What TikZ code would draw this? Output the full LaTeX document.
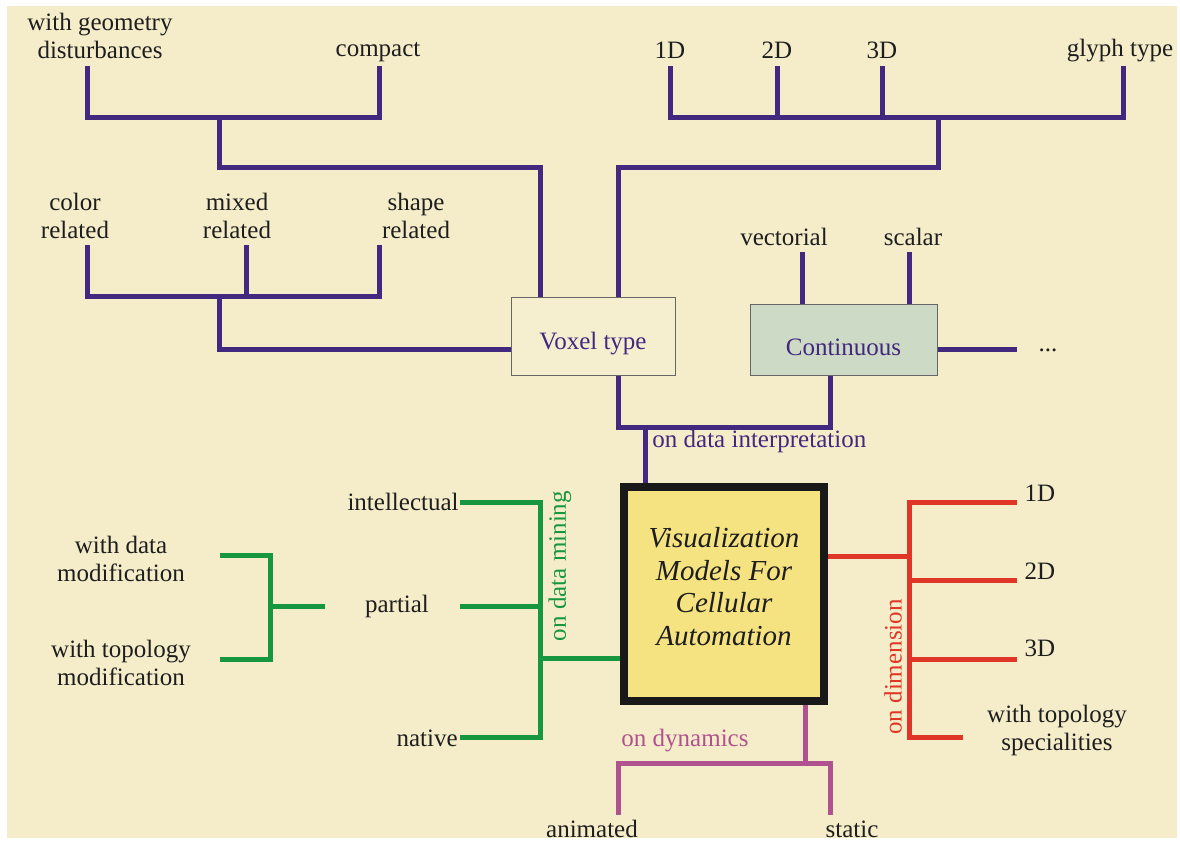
\documentclass[tikz,border=0pt]{standalone}
\usepackage{fontspec}
\setmainfont{LiberationSerif}[Extension=.ttf, UprightFont=*-Regular, ItalicFont=*-Italic, BoldFont=*-Bold, BoldItalicFont=*-BoldItalic]
\definecolor{bgc}{RGB}{245,237,202}
\definecolor{pur}{RGB}{66,40,126}
\definecolor{grn}{RGB}{22,150,62}
\definecolor{rdc}{RGB}{224,54,40}
\definecolor{mag}{RGB}{176,82,143}
\definecolor{ybox}{RGB}{245,226,128}
\definecolor{gbox}{RGB}{205,218,197}
\definecolor{txt}{RGB}{30,30,30}
\begin{document}
\begin{tikzpicture}[x=0.5pt,y=-0.5pt,
  lbl/.style={font=\fontsize{12.5}{14}\selectfont, text=txt, inner sep=0pt, align=center},
  pl/.style={draw=pur, line width=2.5pt},
  gl/.style={draw=grn, line width=2.5pt},
  rl/.style={draw=rdc, line width=2.5pt},
  ml/.style={draw=mag, line width=2.5pt},
  catbox/.style={draw=black!60, line width=0.5pt, font=\fontsize{12.5}{14}\selectfont, text=pur, inner sep=0pt}]
\useasboundingbox (0,0) rectangle (1180,843);
\fill[white] (0,0) rectangle (1180,843);
\fill[bgc] (7,6) rectangle (1177,838);

% boxes
\node[catbox, fill=bgc!90!white, minimum width=82pt, minimum height=39pt, text height=15pt, text depth=2pt] (voxel) at (593,336) {Voxel type};
\node[catbox, fill=gbox, minimum width=93.5pt, minimum height=35.5pt, text height=16pt, text depth=0pt] (cont) at (843.5,339.5) {Continuous};
\node[draw=black!90, line width=4pt, fill=ybox, minimum width=100pt, minimum height=107pt, inner sep=0pt,
  font=\fontsize{14.5}{16.2}\selectfont\itshape, text=txt] (main) at (724,594)
  {\begin{tabular}{@{}c@{}}Visualization\\Models For\\Cellular\\Automation\\[4pt]\end{tabular}};

% top-left labels
\node[lbl] (wgd) at (100,36) {with geometry\\disturbances};
\node[lbl] (compact) at (378,52) {compact};
\node[lbl] (color) at (75,216) {color\\related};
\node[lbl] (mixed) at (237,216) {mixed\\related};
\node[lbl] (shape) at (416,216) {shape\\related};
% top-right labels
\node[lbl] (t1) at (670,50) {1D};
\node[lbl] (t2) at (777,50) {2D};
\node[lbl] (t3) at (882,50) {3D};
\node[lbl] (glyph) at (1120,51) {glyph type};
\node[lbl] (vect) at (784,237) {vectorial};
\node[lbl] (scal) at (913,237) {scalar};
\node[lbl] (dots) at (1048,350) {...};

% coordinates top-left
\coordinate (a1) at (87,66);
\coordinate (a2) at (379,66);
\coordinate (j1) at (219,117);
\coordinate (j2) at (540,167);
\draw[pl] (a1) -- (a1|-j1) -- (a2|-j1) -- (a2);
\draw[pl] (j1) -- (j1|-j2) -- (j2) -- (voxel.north -| j2);

\coordinate (b1) at (87,245);
\coordinate (b2) at (246,245);
\coordinate (b3) at (379,245);
\coordinate (j3) at (219,296);
\coordinate (vj) at (219,349);
\draw[pl] (b1) -- (b1|-j3) -- (b3|-j3) -- (b3);
\draw[pl] (b2) -- (b2|-j3);
\draw[pl] (j3) -- (vj) -- (vj -| voxel.west);

% top-right
\coordinate (c1) at (670,66);
\coordinate (c2) at (777,66);
\coordinate (c3) at (882,66);
\coordinate (c4) at (1123,66);
\coordinate (j4) at (938,117);
\coordinate (j5) at (618,167);
\draw[pl] (c1) -- (c1|-j4) -- (c4|-j4) -- (c4);
\draw[pl] (c2) -- (c2|-j4);
\draw[pl] (c3) -- (c3|-j4);
\draw[pl] (j4) -- (j4|-j5) -- (j5) -- (voxel.north -| j5);

\coordinate (d1) at (802,252);
\coordinate (d2) at (909,252);
\draw[pl] (d1) -- (d1 |- cont.north);
\draw[pl] (d2) -- (d2 |- cont.north);
\coordinate (e1) at (1017,349);
\draw[pl] (cont.east |- e1) -- (e1);

% data interpretation
\coordinate (k1) at (618,427);
\coordinate (k2) at (830,427);
\coordinate (j6) at (645,427);
\draw[pl] (voxel.south -| k1) -- (k1) -- (k2) -- (k2 |- cont.south);
\draw[pl] (j6) -- (j6 |- main.north);
\node[lbl, text=pur, anchor=west] (odi) at (652,441) {on data interpretation};

% red: dimension
\coordinate (r0) at (909,556);
\coordinate (rt) at (909,502);
\coordinate (rb) at (909,737);
\coordinate (r1) at (1017,502);
\coordinate (r2) at (1017,580);
\coordinate (r3) at (1017,659);
\coordinate (r4) at (963,737);
\draw[rl] (main.east |- r0) -- (r0);
\draw[rl] (r1) -- (rt) -- (rb) -- (r4);
\draw[rl] (r2) -- (r2 -| rt);
\draw[rl] (r3) -- (r3 -| rt);
\node[lbl] (dd1) at (1040,493) {1D};
\node[lbl] (dd2) at (1040,571) {2D};
\node[lbl] (dd3) at (1040,648) {3D};
\node[lbl] (wts) at (1057,730) {with topology\\specialities};
\node[lbl, text=rdc, rotate=90] (odim) at (893,667) {on dimension};

% green: data mining
\coordinate (g0) at (540,658);
\coordinate (gt) at (540,502);
\coordinate (gb) at (540,737);
\coordinate (g1) at (460,502);
\coordinate (g2) at (460,606);
\coordinate (g3) at (460,737);
\draw[gl] (g0) -- (g0 -| main.west);
\draw[gl] (g1) -- (gt) -- (gb) -- (g3);
\draw[gl] (g2) -- (g2 -| gt);
\node[lbl, anchor=east] (intel) at (459,502) {intellectual};
\node[lbl] (partial) at (397,606) {partial};
\node[lbl, anchor=east] (native) at (458,738) {native};
\node[lbl, text=grn, rotate=90] (odm) at (560,566) {on data mining};

\coordinate (h1) at (220,555);
\coordinate (h2) at (220,659);
\coordinate (hx) at (270,606);
\coordinate (h3) at (325,606);
\draw[gl] (h1) -- (h1 -| hx) -- (h2 -| hx) -- (h2);
\draw[gl] (hx) -- (h3);
\node[lbl] (wdm) at (121,559) {with data\\modification};
\node[lbl] (wtm) at (121,663) {with topology\\modification};

% magenta: dynamics
\coordinate (m0) at (805,763);
\coordinate (m1) at (618,815);
\coordinate (m2) at (830,815);
\draw[ml] (main.south -| m0) -- (m0);
\draw[ml] (m1) -- (m1 |- m0) -- (m2 |- m0) -- (m2);
\node[lbl] (anim) at (592,829) {animated};
\node[lbl] (stat) at (852,829) {static};
\node[lbl, text=mag] (odyn) at (685,741) {on dynamics};
\end{tikzpicture}
\end{document}
